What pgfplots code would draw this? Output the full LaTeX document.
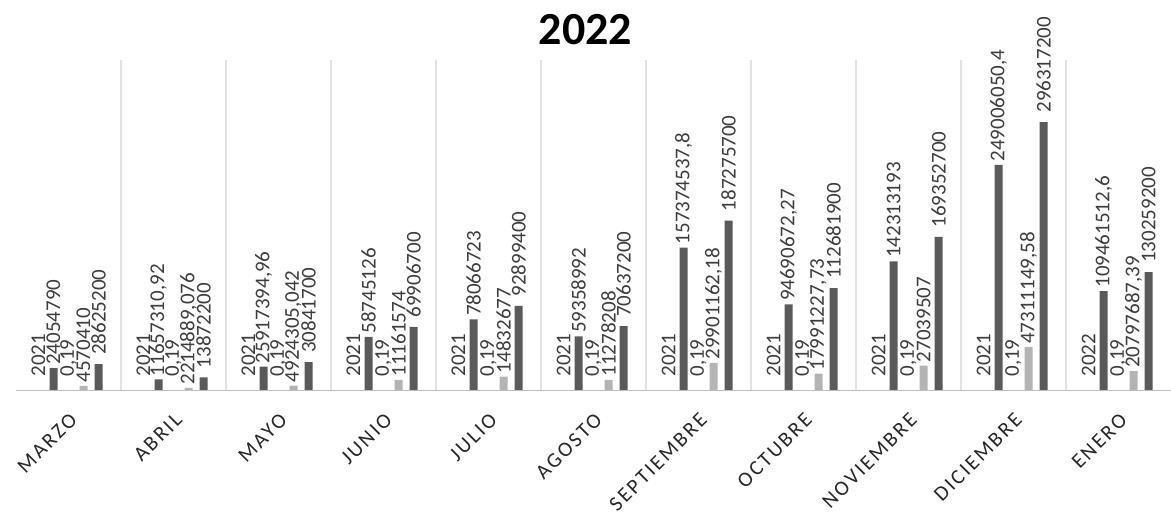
\documentclass[border=0pt]{standalone}
\usepackage{fontspec}
\setmainfont{Carlito}
\newfontfamily\monthfont[LetterSpace=11]{Carlito}
\usepackage{pgfplots}
\usepackage{pgfplotstable}
\pgfplotsset{compat=1.18}

\definecolor{darkbar}{HTML}{5A5A5A}
\definecolor{lightbar}{HTML}{B4B4B4}
\definecolor{labeltext}{HTML}{3C3C3C}
\definecolor{gridgray}{HTML}{E2E2E2}

% x: month index, then value/label pairs for the five series
\pgfplotstableread{
x ya la yb lb yc lc yd ld ye le
0 2021 2021 24054790 24054790 0.19 0,19 4570410 4570410 28625200 28625200
1 2021 2021 11657310.92 11657310,92 0.19 0,19 2214889.076 2214889,076 13872200 13872200
2 2021 2021 25917394.96 25917394,96 0.19 0,19 4924305.042 4924305,042 30841700 30841700
3 2021 2021 58745126 58745126 0.19 0,19 11161574 11161574 69906700 69906700
4 2021 2021 78066723 78066723 0.19 0,19 14832677 14832677 92899400 92899400
5 2021 2021 59358992 59358992 0.19 0,19 11278208 11278208 70637200 70637200
6 2021 2021 157374537.8 157374537,8 0.19 0,19 29901162.18 29901162,18 187275700 187275700
7 2021 2021 94690672.27 94690672,27 0.19 0,19 17991227.73 17991227,73 112681900 112681900
8 2021 2021 142313193 142313193 0.19 0,19 27039507 27039507 169352700 169352700
9 2021 2021 249006050.4 249006050,4 0.19 0,19 47311149.58 47311149,58 296317200 296317200
10 2022 2022 109461512.6 109461512,6 0.19 0,19 20797687.39 20797687,39 130259200 130259200
}\data

\begin{document}
\begin{tikzpicture}
\useasboundingbox (-8pt,-69.5pt) rectangle (577.5pt,195pt);
\begin{axis}[
    scale only axis,
    width=577.5pt, height=165pt,
    ybar=3.5pt, bar width=4pt,
    xmin=-0.5, xmax=10.5,
    ymin=0, ymax=3.649e8,
    hide y axis,
    axis x line*=bottom,
    x axis line style={-, draw=gray!50},
    xtick={0,...,10},
    xticklabels={MARZO,ABRIL,MAYO,JUNIO,JULIO,AGOSTO,SEPTIEMBRE,OCTUBRE,NOVIEMBRE,DICIEMBRE,ENERO},
    x tick label style={yshift=-6pt, rotate=45, anchor=north east,
        font=\monthfont\fontsize{10.5}{12}\selectfont, text=black!85},
    major tick length=0pt,
    minor xtick={0.5,1.5,...,9.5},
    minor tick length=0pt,
    xminorgrids=true,
    minor grid style={gridgray, line width=0.6pt},
    title={\bfseries 2022},
    title style={at={(0.493,1)}, anchor=center, yshift=9pt,
        font=\fontsize{23}{26}\selectfont},
    nodes near coords,
    point meta=explicit symbolic,
    every node near coord/.append style={rotate=90, anchor=west,
        inner sep=1.5pt, text=labeltext, font=\fontsize{10.5}{12}\selectfont},
]
\addplot[fill=none, draw=none,
    every node near coord/.append style={xshift=5pt}]
    table[x=x, y=ya, meta=la] {\data};
\addplot[fill=darkbar, draw=none]
    table[x=x, y=yb, meta=lb] {\data};
\addplot[fill=none, draw=none,
    every node near coord/.append style={xshift=5pt}]
    table[x=x, y=yc, meta=lc] {\data};
\addplot[fill=lightbar, draw=none]
    table[x=x, y=yd, meta=ld] {\data};
\addplot[fill=darkbar, draw=none,
    every node near coord/.append style={xshift=3pt}]
    table[x=x, y=ye, meta=le] {\data};
\end{axis}
\end{tikzpicture}
\end{document}
